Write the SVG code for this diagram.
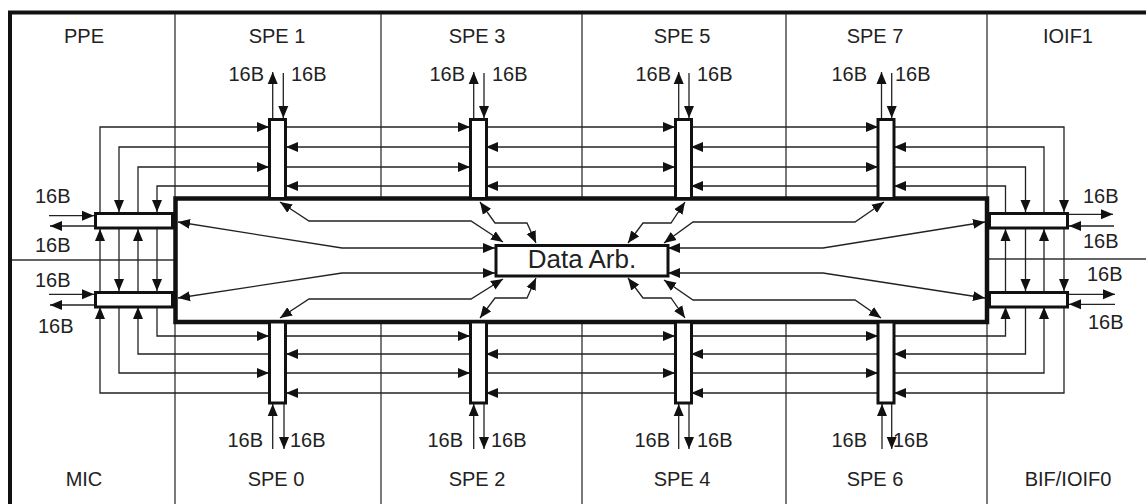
<svg xmlns="http://www.w3.org/2000/svg" width="1146" height="504" viewBox="0 0 1146 504">
<defs>
<marker id="ah" markerUnits="userSpaceOnUse" markerWidth="13" markerHeight="11" refX="12" refY="5.5" orient="auto-start-reverse" viewBox="0 0 13 11">
<path d="M0,0.5 L12,5.5 L0,10.5 z" fill="#111"/>
</marker>
<style>
.ln{stroke:#222;stroke-width:1.3;fill:none}
.dv{stroke:#333;stroke-width:1.3;fill:none}
.ar{marker-end:url(#ah)}
.da{marker-start:url(#ah);marker-end:url(#ah)}
.bar{fill:#fff;stroke:#111;stroke-width:3}
.t{font-family:"Liberation Sans",Arial,sans-serif;font-size:20px;fill:#222}
.tm{text-anchor:middle}
.te{text-anchor:end}
</style>
</defs>
<rect width="1146" height="504" fill="#fff"/>
<g id="frame">
<path d="M8,12.5 H1146 M10,10.5 V504" stroke="#111" stroke-width="4" fill="none"/>
<path class="dv" d="M175,14 V504 M987,14 V504 M381,14 V198 M381,322 V504 M582,14 V198 M582,322 V504 M786,14 V198 M786,322 V504 M12,260 H175 M987,259 H1146"/>
</g>
<g id="labels">
<text class="t tm" x="84" y="43">PPE</text>
<text class="t tm" x="277" y="43">SPE 1</text>
<text class="t tm" x="477" y="43">SPE 3</text>
<text class="t tm" x="682" y="43">SPE 5</text>
<text class="t tm" x="875" y="43">SPE 7</text>
<text class="t tm" x="1068" y="43">IOIF1</text>
<text class="t tm" x="84" y="486">MIC</text>
<text class="t tm" x="276" y="486">SPE 0</text>
<text class="t tm" x="477" y="486">SPE 2</text>
<text class="t tm" x="682" y="486">SPE 4</text>
<text class="t tm" x="875" y="486">SPE 6</text>
<text class="t tm" x="1068" y="486">BIF/IOIF0</text>
<text class="t te" x="264" y="81">16B</text><text class="t" x="291" y="81">16B</text>
<text class="t te" x="465" y="81">16B</text><text class="t" x="492" y="81">16B</text>
<text class="t te" x="671" y="81">16B</text><text class="t" x="697" y="81">16B</text>
<text class="t te" x="867" y="81">16B</text><text class="t" x="895" y="81">16B</text>
<text class="t te" x="263" y="447">16B</text><text class="t" x="290" y="447">16B</text>
<text class="t te" x="463" y="447">16B</text><text class="t" x="491" y="447">16B</text>
<text class="t te" x="670" y="447">16B</text><text class="t" x="697" y="447">16B</text>
<text class="t te" x="867" y="447">16B</text><text class="t" x="893" y="447">16B</text>
<text class="t" x="35" y="203">16B</text>
<text class="t" x="35" y="252">16B</text>
<text class="t" x="35" y="287">16B</text>
<text class="t" x="38" y="333">16B</text>
<text class="t" x="1083" y="203">16B</text>
<text class="t" x="1083" y="248">16B</text>
<text class="t" x="1087" y="281">16B</text>
<text class="t" x="1088" y="329">16B</text>
</g>
<g id="connectors">
<path class="ln ar" d="M100,213 V127 H269"/>
<path class="ln ar" d="M100,292 V229"/>
<path class="ln ar" d="M269,393 H100 V307"/>
<path class="ln ar" d="M269,147 H119 V212"/>
<path class="ln ar" d="M119,228 V291"/>
<path class="ln ar" d="M119,307 V373 H269"/>
<path class="ln ar" d="M138,213 V167 H269"/>
<path class="ln ar" d="M138,292 V229"/>
<path class="ln ar" d="M269,354 H138 V307"/>
<path class="ln ar" d="M269,186 H157 V212"/>
<path class="ln ar" d="M157,228 V291"/>
<path class="ln ar" d="M157,307 V336 H269"/>
<path class="ln ar" d="M894,127 H1064 V212"/>
<path class="ln ar" d="M1064,228 V291"/>
<path class="ln ar" d="M1064,307 V393 H894"/>
<path class="ln ar" d="M1044,213 V147 H894"/>
<path class="ln ar" d="M1044,292 V229"/>
<path class="ln ar" d="M894,373 H1044 V307"/>
<path class="ln ar" d="M894,167 H1025.5 V212"/>
<path class="ln ar" d="M1025.5,228 V291"/>
<path class="ln ar" d="M1025.5,307 V354 H894"/>
<path class="ln ar" d="M1005.5,213 V186 H894"/>
<path class="ln ar" d="M1005.5,292 V229"/>
<path class="ln ar" d="M894,336 H1005.5 V307"/>
<path class="ln ar" d="M286,127 H470"/>
<path class="ln ar" d="M486,127 H675"/>
<path class="ln ar" d="M691,127 H878"/>
<path class="ln ar" d="M878,147 H691"/>
<path class="ln ar" d="M675,147 H486"/>
<path class="ln ar" d="M470,147 H286"/>
<path class="ln ar" d="M286,167 H470"/>
<path class="ln ar" d="M486,167 H675"/>
<path class="ln ar" d="M691,167 H878"/>
<path class="ln ar" d="M878,186 H691"/>
<path class="ln ar" d="M675,186 H486"/>
<path class="ln ar" d="M470,186 H286"/>
<path class="ln ar" d="M286,336 H470"/>
<path class="ln ar" d="M486,336 H675"/>
<path class="ln ar" d="M691,336 H878"/>
<path class="ln ar" d="M878,354 H691"/>
<path class="ln ar" d="M675,354 H486"/>
<path class="ln ar" d="M470,354 H286"/>
<path class="ln ar" d="M286,373 H470"/>
<path class="ln ar" d="M486,373 H675"/>
<path class="ln ar" d="M691,373 H878"/>
<path class="ln ar" d="M878,393 H691"/>
<path class="ln ar" d="M675,393 H486"/>
<path class="ln ar" d="M470,393 H286"/>
<path class="ln ar" d="M272.7,119 V72"/><path class="ln ar" d="M283.3,73 V118"/>
<path class="ln ar" d="M473.7,119 V72"/><path class="ln ar" d="M484,73 V118"/>
<path class="ln ar" d="M678.7,119 V72"/><path class="ln ar" d="M689,73 V118"/>
<path class="ln ar" d="M881.5,119 V72"/><path class="ln ar" d="M891.7,73 V118"/>
<path class="ln ar" d="M272.7,449 V404"/><path class="ln ar" d="M284,403 V449"/>
<path class="ln ar" d="M473.7,449 V404"/><path class="ln ar" d="M484,403 V449"/>
<path class="ln ar" d="M678.7,449 V404"/><path class="ln ar" d="M689,403 V449"/>
<path class="ln ar" d="M882,449 V404"/><path class="ln ar" d="M891.7,403 V449"/>
<path class="ln ar" d="M49,215.7 H94"/><path class="ln ar" d="M95,226 H50"/>
<path class="ln ar" d="M49,294.3 H94"/><path class="ln ar" d="M95,305 H50"/>
<path class="ln ar" d="M1068,214.3 H1113"/><path class="ln ar" d="M1114,226 H1069"/>
<path class="ln ar" d="M1068,294.3 H1115"/><path class="ln ar" d="M1115,304.3 H1069"/>
<path class="ln da" d="M280,202 L309,221 H471 L503,242"/>
<path class="ln da" d="M480,202 L495,223 H527 L536,243"/>
<path class="ln da" d="M178,222 L342,248 H495"/>
<path class="ln da" d="M178,298 L342,273 H495"/>
<path class="ln da" d="M280,318 L309,299 H471 L503,279"/>
<path class="ln da" d="M480,318 L495,298 H527 L536,278"/>
<path class="ln da" d="M628,243 L643,223 H671 L685,202"/>
<path class="ln da" d="M664,243 L693,222 H855 L884,202"/>
<path class="ln da" d="M668,248 H823 L985,222"/>
<path class="ln da" d="M668,273 H823 L985,298"/>
<path class="ln da" d="M628,278 L643,298 H671 L685,318"/>
<path class="ln da" d="M664,280 L693,300 H855 L881,318"/>
</g>
<g id="eib">
<rect x="175.5" y="198.5" width="811.5" height="123.5" fill="none" stroke="#111" stroke-width="4.5"/>
</g>
<g id="spe1"><rect class="bar" x="269.5" y="119.5" width="16" height="79"/></g>
<g id="spe3"><rect class="bar" x="470.5" y="119.5" width="16" height="79"/></g>
<g id="spe5"><rect class="bar" x="675.5" y="119.5" width="16" height="79"/></g>
<g id="spe7"><rect class="bar" x="878" y="119.5" width="16" height="79"/></g>
<g id="spe0"><rect class="bar" x="269.5" y="322" width="16" height="81"/></g>
<g id="spe2"><rect class="bar" x="470.5" y="322" width="16" height="81"/></g>
<g id="spe4"><rect class="bar" x="675.5" y="322" width="16" height="81"/></g>
<g id="spe6"><rect class="bar" x="878" y="322" width="16" height="81"/></g>
<g id="ppe"><rect class="bar" x="95.5" y="213.5" width="77" height="14.5"/></g>
<g id="mic"><rect class="bar" x="95.5" y="292.5" width="77" height="14.5"/></g>
<g id="ioif1"><rect class="bar" x="989.5" y="213.5" width="78" height="14.5"/></g>
<g id="bif"><rect class="bar" x="989.5" y="292.5" width="78" height="14.5"/></g>
<g id="dataarb">
<rect x="496" y="245.5" width="172" height="30.5" fill="#fff" stroke="#111" stroke-width="3"/>
<text x="582" y="267.5" text-anchor="middle" font-family="Liberation Sans, Arial, sans-serif" font-size="26" fill="#222">Data Arb.</text>
</g>
</svg>
